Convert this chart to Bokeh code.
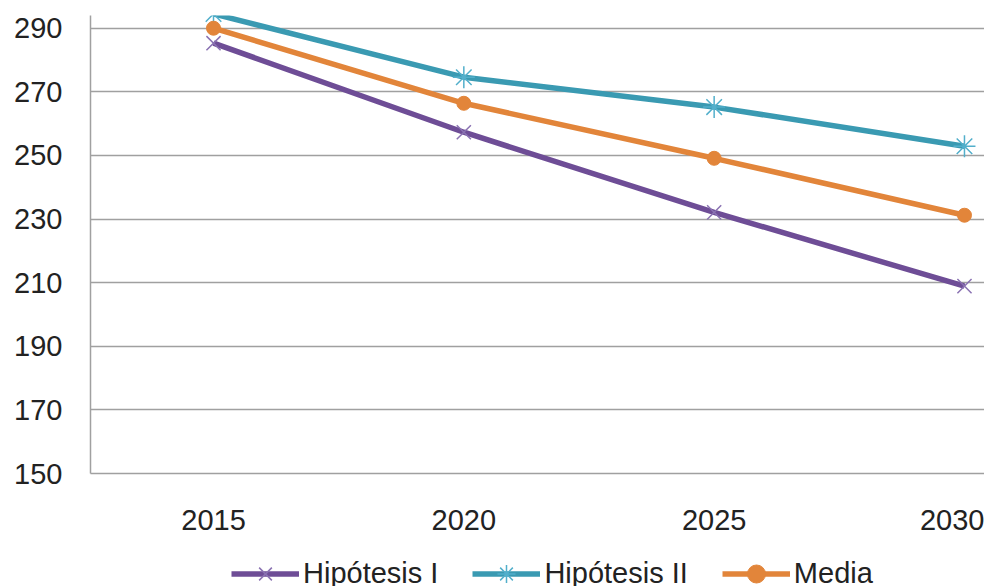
from bokeh.plotting import figure
from bokeh.layouts import column
from bokeh.models import Legend, LegendItem, Range1d, FixedTicker
from bokeh.embed import file_html
from bokeh.resources import INLINE

years = [2015, 2020, 2025, 2030]
hip1 = [285.3, 257.3, 232.1, 208.9]
hip2 = [294.5, 274.6, 265.2, 252.9]
media = [290.0, 266.4, 249.1, 231.2]
y_ticks = [150, 170, 190, 210, 230, 250, 270, 290]
series = [("Hipótesis I", hip1), ("Hipótesis II", hip2), ("Media", media)]

FONT = "Liberation Sans"
FS = "29px"

c1, m1 = "#6E4D96", "#8A72B2"
c2, m2 = "#3A9AB2", "#52AFCB"
c3 = "#E2853A"
styles = [
    dict(color=c1, marker="x", size=20, mcolor=m1),
    dict(color=c2, marker="asterisk", size=22, mcolor=m2),
    dict(color=c3, marker="circle", size=14, mcolor=c3),
]

p = figure(frame_width=894, frame_height=458, output_backend="svg", toolbar_location=None,
           x_range=Range1d(2012.543, 2030.40), y_range=Range1d(150, 294),
           min_border_left=90, min_border_right=0, min_border_top=15,
           min_border_bottom=70)
p.outline_line_color = None

p.xgrid.grid_line_color = None
p.ygrid.grid_line_color = "#A0A0A0"
p.ygrid.grid_line_width = 1.5
p.ygrid.ticker = FixedTicker(ticks=y_ticks)

p.xaxis.ticker = FixedTicker(ticks=years)
p.yaxis.ticker = FixedTicker(ticks=y_ticks)
for ax in (p.xaxis[0], p.yaxis[0]):
    ax.axis_line_color = "#A0A0A0"
    ax.axis_line_width = 1.5
    ax.major_tick_line_color = None
    ax.minor_tick_line_color = None
    ax.major_label_text_font = FONT
    ax.major_label_text_font_size = FS
    ax.major_label_text_color = "#222222"
p.xaxis.major_label_standoff = 30
p.yaxis.major_label_standoff = 22


def draw(fig, ys, st):
    ln = fig.line(years, ys, line_color=st["color"], line_width=5.5)
    if st["marker"] == "circle":
        sc = fig.scatter(years, ys, marker="circle", size=st["size"],
                         fill_color=st["mcolor"], line_color=st["mcolor"])
    else:
        sc = fig.scatter(years, ys, marker=st["marker"], size=st["size"],
                         line_color=st["mcolor"], line_width=1.5)
    return ln, sc


for (name, ys), st in zip(series, styles):
    draw(p, ys, st)

# legend strip below the chart (its own glyphs lie outside its view)
lg = figure(width=984, height=43, output_backend="svg", toolbar_location=None,
            x_range=Range1d(0, 1), y_range=Range1d(0, 1),
            min_border_left=0, min_border_right=0, min_border_top=0, min_border_bottom=0)
lg.axis.visible = False
lg.grid.visible = False
lg.outline_line_color = None

items = []
for (name, ys), st in zip(series, styles):
    ln, sc = draw(lg, ys, st)
    items.append(LegendItem(label=name, renderers=[ln, sc]))

legend = Legend(items=items, orientation="horizontal", location=(141, -10),
                glyph_width=68, glyph_height=45, label_standoff=4, spacing=34,
                label_text_font=FONT, label_text_font_size=FS, label_text_color="#222222",
                border_line_color=None, background_fill_alpha=0, padding=0, margin=0)
lg.add_layout(legend, "center")

layout = column(p, lg, spacing=0)
open("out.html", "w").write(file_html(layout, INLINE))
